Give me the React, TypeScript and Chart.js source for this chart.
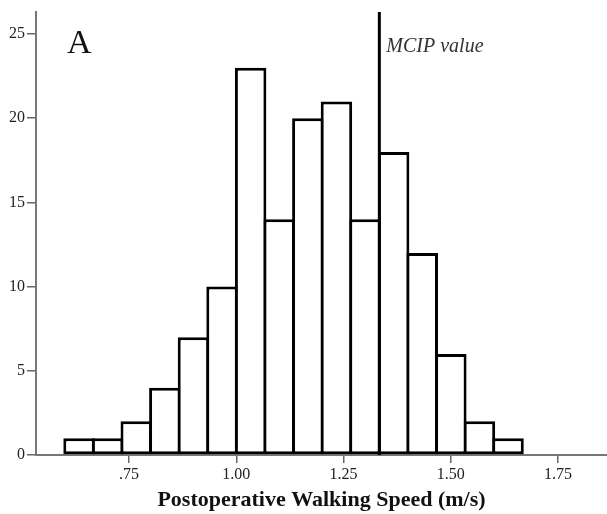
import React, { useEffect, useRef } from "react";
import { Chart, registerables } from "chart.js";

Chart.register(...registerables);

// Histogram bins: left edges start at 0.60, width 1/15 m/s
const binStart = 0.6;
const binWidth = 1 / 15;
const counts = [1, 1, 2, 4, 7, 10, 23, 14, 20, 21, 14, 18, 12, 6, 2, 1];
const mcipValue = 4 / 3;
const xTicks = [0.75, 1.0, 1.25, 1.5, 1.75];
const yTicks = [0, 5, 10, 15, 20, 25];
const xTitle = "Postoperative Walking Speed (m/s)";
const panelLabel = "A";
const mcipLabel = "MCIP value";

const X_MIN = 0.533;
const X_MAX = 1.864;
const Y_MAX = 26.31;

export default function App() {
  const ref = useRef<HTMLCanvasElement | null>(null);

  useEffect(() => {
    if (!ref.current) return;
    const barData = counts.map((c, i) => ({ x: binStart + binWidth * (i + 0.5), y: c }));
    const lineData = [
      { x: mcipValue, y: 0 },
      { x: mcipValue, y: Y_MAX },
    ];

    const labelPlugin = {
      id: "labels",
      afterDraw(chart: any) {
        const ctx = chart.ctx;
        const xs = chart.scales.x;
        const area = chart.chartArea;
        ctx.save();
        ctx.fillStyle = "#111";
        ctx.font = '34px "Liberation Serif"';
        ctx.textBaseline = "alphabetic";
        ctx.textAlign = "left";
        ctx.fillText(panelLabel, area.left + 31, area.top + 41);
        ctx.fillStyle = "#333";
        ctx.font = 'italic 20px "Liberation Serif"';
        ctx.fillText(mcipLabel, xs.getPixelForValue(mcipValue) + 7, area.top + 40);
        ctx.restore();
      },
    };

    const chart = new Chart(ref.current, {
      type: "bar",
      data: {
        datasets: [
          {
            type: "bar",
            data: barData as any,
            backgroundColor: "#ffffff",
            borderColor: "#000000",
            borderWidth: 3,
            borderSkipped: false,
            inflateAmount: 0,
            barPercentage: 1.1,
            categoryPercentage: 1,
            grouped: false,
            order: 2,
          } as any,
          {
            type: "line",
            data: lineData as any,
            borderColor: "#000000",
            borderWidth: 3,
            pointRadius: 0,
            fill: false,
            order: 1,
          } as any,
        ],
      },
      options: {
        animation: false,
        responsive: false,
        devicePixelRatio: 1,
        layout: { padding: { top: 12, left: 0, right: 0, bottom: 0 } },
        plugins: { legend: { display: false }, tooltip: { enabled: false } },
        scales: {
          x: {
            type: "linear",
            min: X_MIN,
            max: X_MAX,
            offset: false,
            afterFit: (s: any) => {
              s.height = 59;
            },
            afterBuildTicks: (s: any) => {
              s.ticks = xTicks.map((v) => ({ value: v }));
            },
            grid: {
              offset: false,
              drawOnChartArea: false,
              drawTicks: true,
              tickLength: 8,
              color: "#666",
              lineWidth: 1.5,
            },
            border: { display: true, color: "#777", width: 2 },
            ticks: {
              color: "#222",
              font: { family: "Liberation Serif", size: 16 },
              padding: 2,
              maxRotation: 0,
              autoSkip: false,
              callback: (v: any) => {
                const n = Math.round(Number(v) * 100) / 100;
                const s = n.toFixed(2);
                return n < 1 ? s.replace(/^0/, "") : s;
              },
            },
            title: {
              display: true,
              text: xTitle,
              color: "#111",
              font: { family: "Liberation Serif", size: 22, weight: "bold" },
              padding: { top: 0, bottom: 0 },
            },
          },
          y: {
            type: "linear",
            min: 0,
            max: Y_MAX,
            afterFit: (s: any) => {
              s.width = 36;
            },
            afterBuildTicks: (s: any) => {
              s.ticks = yTicks.map((v) => ({ value: v }));
            },
            grid: {
              drawOnChartArea: false,
              drawTicks: true,
              tickLength: 9,
              color: "#666",
              lineWidth: 1.5,
            },
            border: { display: true, color: "#777", width: 2 },
            ticks: {
              color: "#222",
              font: { family: "Liberation Serif", size: 16 },
              padding: 2,
              autoSkip: false,
            },
          },
        },
      } as any,
      plugins: [labelPlugin],
    });
    return () => chart.destroy();
  }, []);

  return (
    <div style={{ position: "absolute", left: 0, top: 0, width: 607, height: 514, background: "#fff" }}>
      <canvas ref={ref} width={607} height={514} style={{ display: "block" }} />
    </div>
  );
}
